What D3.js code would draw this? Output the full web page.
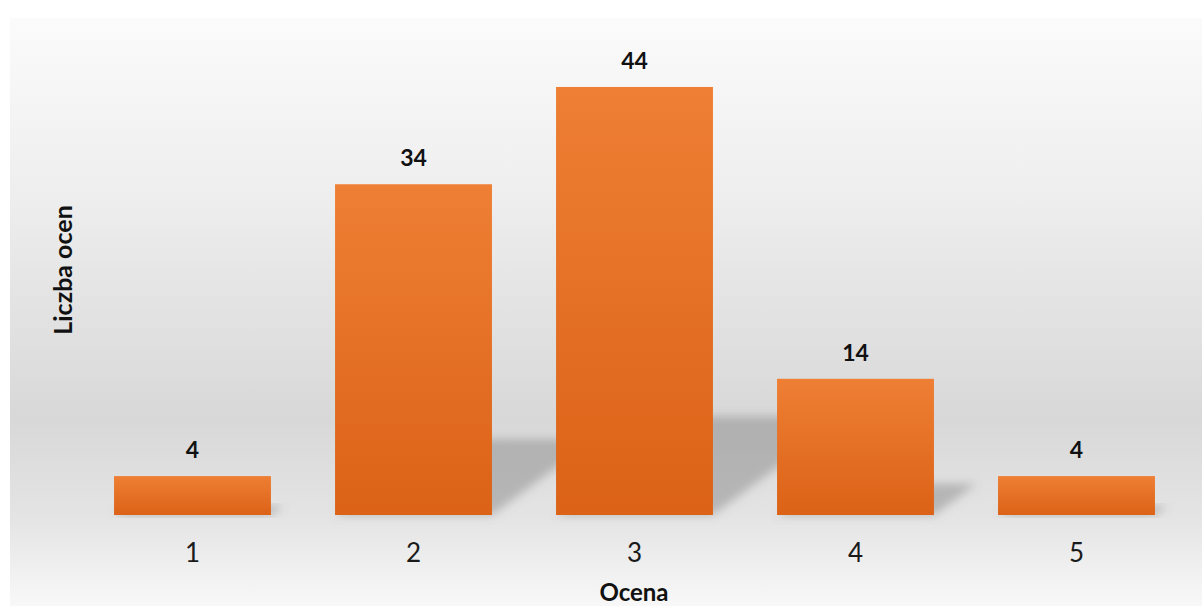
<!DOCTYPE html>
<html>
<head>
<meta charset="utf-8">
<script src="https://cdn.jsdelivr.net/npm/d3@7"></script>
<style>
  html, body { margin: 0; padding: 0; background: #fff; }
  svg { display: block; }
  text { font-family: Lato, "Open Sans", sans-serif; }
</style>
</head>
<body>
<svg id="chart" width="1202" height="606"></svg>
<script>
const categories = ["1", "2", "3", "4", "5"];
const values = [4, 34, 44, 14, 4];
const yMax = 50;
const xTitle = "Ocena";
const yTitle = "Liczba ocen";

const W = 1202, H = 606;
const svg = d3.select("#chart");
const defs = svg.append("defs");

// background gradient
const bg = defs.append("linearGradient").attr("id", "bgGrad")
  .attr("x1", 0).attr("y1", 0).attr("x2", 0).attr("y2", 1);
bg.append("stop").attr("offset", "0%").attr("stop-color", "#fbfbfb");
bg.append("stop").attr("offset", "30%").attr("stop-color", "#eeeeee");
bg.append("stop").attr("offset", "68%").attr("stop-color", "#d8d8d8");
bg.append("stop").attr("offset", "85%").attr("stop-color", "#e4e4e4");
bg.append("stop").attr("offset", "100%").attr("stop-color", "#f8f8f8");

// bar gradient
const bg2 = defs.append("linearGradient").attr("id", "barGrad")
  .attr("x1", 0).attr("y1", 0).attr("x2", 0).attr("y2", 1);
bg2.append("stop").attr("offset", "0%").attr("stop-color", "#ee7f34");
bg2.append("stop").attr("offset", "100%").attr("stop-color", "#db6217");

// shadow blur
const f = defs.append("filter").attr("id", "blur")
  .attr("x", "-30%").attr("y", "-30%").attr("width", "160%").attr("height", "160%");
f.append("feGaussianBlur").attr("stdDeviation", 5);

svg.append("rect").attr("x", 10).attr("y", 18).attr("width", W - 10).attr("height", H - 18)
  .attr("fill", "url(#bgGrad)");

const x = d3.scaleBand().domain(categories).range([82, 1187])
  .paddingInner(0.29).paddingOuter(0.145);
const y = d3.scaleLinear().domain([0, yMax]).range([515, 28.6]);

const data = categories.map((c, i) => ({ c, v: values[i] }));
const y0 = y(0);

// perspective shadows
svg.append("g").selectAll("polygon").data(data).join("polygon")
  .attr("points", d => {
    const x0 = x(d.c), x1 = x(d.c) + x.bandwidth();
    const h = y0 - y(d.v);
    const hs = 0.23 * h, dx = 1.35 * hs;
    return [[x0, y0], [x1, y0], [x1 + dx, y0 - hs], [x0 + dx, y0 - hs]].map(p => p.join(",")).join(" ");
  })
  .attr("fill", "#777").attr("fill-opacity", 0.42)
  .attr("filter", "url(#blur)");

// bars
svg.append("g").selectAll("rect").data(data).join("rect")
  .attr("x", d => x(d.c)).attr("y", d => y(d.v))
  .attr("width", x.bandwidth()).attr("height", d => y0 - y(d.v))
  .attr("fill", "url(#barGrad)");

// value labels
svg.append("g").selectAll("text").data(data).join("text")
  .attr("x", d => x(d.c) + x.bandwidth() / 2)
  .attr("y", d => y(d.v) - 18)
  .attr("text-anchor", "middle")
  .attr("font-size", 23).attr("font-weight", "bold").attr("fill", "#111")
  .text(d => d.v);

// x axis
const xa = svg.append("g").attr("transform", `translate(0,${y0})`)
  .call(d3.axisBottom(x).tickSize(0));
xa.select(".domain").remove();
xa.selectAll("text").attr("y", 47).attr("dy", 0)
  .attr("font-size", 26).attr("fill", "#1a1a1a")
  .style("font-family", "Lato, 'Open Sans', sans-serif");

// axis titles
svg.append("text").attr("x", 634).attr("y", 601).attr("text-anchor", "middle")
  .attr("font-size", 24).attr("font-weight", "bold").attr("fill", "#111").text(xTitle);
svg.append("text").attr("transform", "translate(71.5,270) rotate(-90)")
  .attr("text-anchor", "middle")
  .attr("font-size", 25).attr("font-weight", "bold").attr("fill", "#111").text(yTitle);
</script>
</body>
</html>
